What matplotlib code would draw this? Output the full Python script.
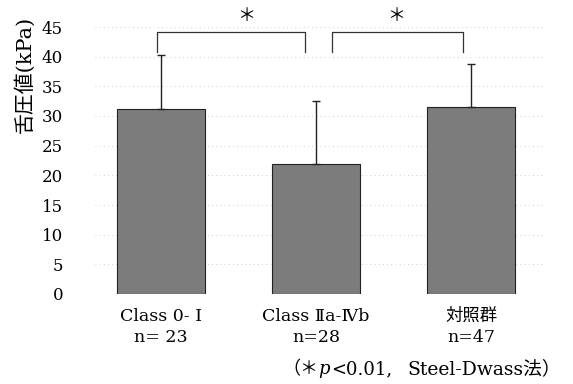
import numpy as np
import matplotlib
matplotlib.use("Agg")
import matplotlib.pyplot as plt

# tongue pressure by group
groups = ["Class 0- I\nn= 23", "Class Ⅱa-Ⅳb\nn=28", "対照群\nn=47"]
means = [31.2, 21.9, 31.5]
sds = [9.1, 10.6, 7.3]
yticks = [0, 5, 10, 15, 20, 25, 30, 35, 40, 45]

plt.rcParams['font.family'] = ['DejaVu Serif', 'Noto Sans CJK JP', 'DejaVu Sans']

fig = plt.figure(figsize=(5.73, 3.84), dpi=100)
ax = fig.add_axes([95 / 573, 90 / 384, 450 / 573, 267 / 384])

x = np.arange(len(groups))
ax.bar(x, means, width=0.57, color='#7c7c7c', edgecolor='#222222', linewidth=0.8, zorder=2)
ax.errorbar(x, means, yerr=[np.zeros(len(sds)), sds], fmt='none', ecolor='#222222',
            elinewidth=1, capsize=3, capthick=1, zorder=3)

ax.set_xlim(-0.426, 2.477)
ax.set_ylim(0, 45)
ax.set_yticks(yticks)
ax.set_xticks(x)
ax.set_xticklabels(groups, fontsize=12.5, linespacing=1.35)
ax.tick_params(axis='both', length=0)
ax.tick_params(axis='y', labelsize=12, pad=23)
ax.tick_params(axis='x', pad=10)
for s in ax.spines.values():
    s.set_visible(False)
ax.yaxis.grid(True, linestyle=(0, (1, 4)), color='#c4c4c4', linewidth=0.6, zorder=0)

# y label sits high, next to the upper ticks
fig.text(24 / 573, 1 - 74 / 384, '舌圧値(kPa)', fontsize=15, rotation=90,
         ha='center', va='center')

# significance brackets
brackets = [(-0.026, 0.93, 0.55), (1.10, 1.95, 1.52)]
for x0, x1, xs in brackets:
    ax.plot([x0, x0, x1, x1], [40.8, 44.2, 44.2, 40.8], color='#333333', lw=0.9, clip_on=False)
    ax.text(xs, 45.3, '＊', ha='center', va='bottom', fontsize=13,
            family=['Noto Sans CJK JP'], clip_on=False)

# footnote, chained piece by piece
t = fig.text(282 / 573, 1 - 369 / 384, '（＊', fontsize=13, ha='left', va='center')
pieces = [('p', 'italic', 0.5, 13), ('<0.01,', 'normal', 0.5, 13),
          ('Steel-Dwass法）', 'normal', 11, 13.5)]
for s, st, gap, fs in pieces:
    t = ax.annotate(s, xy=(1, 0.5), xycoords=t, xytext=(gap, 0), textcoords='offset points',
                    fontsize=fs, style=st, ha='left', va='center', annotation_clip=False)

fig.savefig('out.png', dpi=100)
